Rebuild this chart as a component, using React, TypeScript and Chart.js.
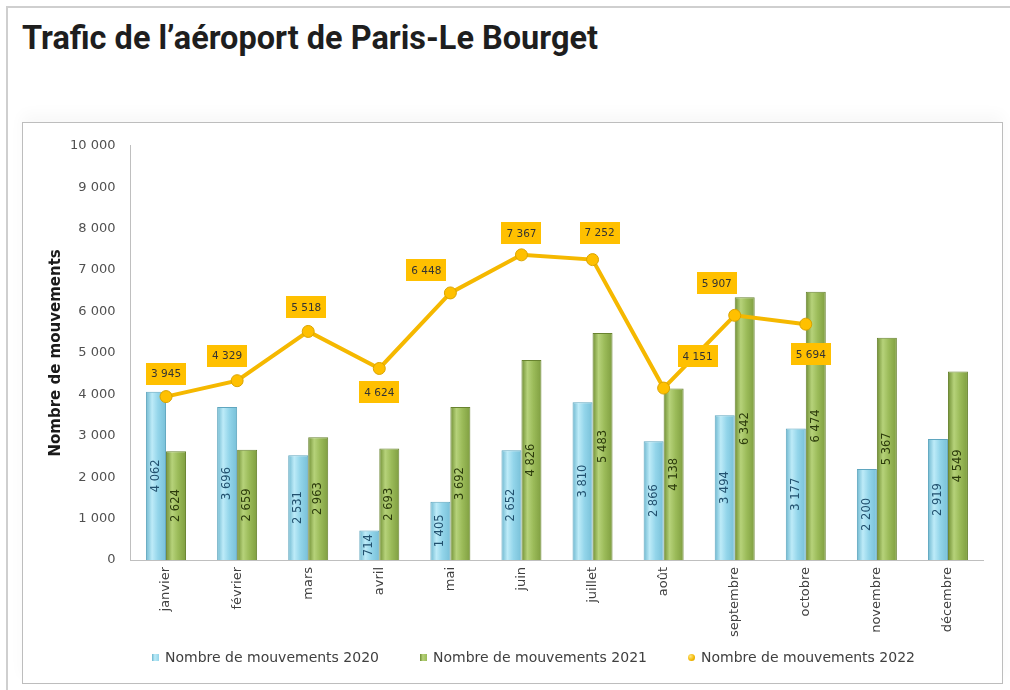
import React, { useEffect, useRef } from 'react';
import { Chart, registerables } from 'chart.js';

Chart.register(...registerables);

// ---------- data ----------
const TITLE = 'Trafic de l’aéroport de Paris-Le Bourget';
const Y_TITLE = 'Nombre de mouvements';
const MONTHS = ['janvier', 'février', 'mars', 'avril', 'mai', 'juin', 'juillet', 'août', 'septembre', 'octobre', 'novembre', 'décembre'];
const MOUV_2020 = [4062, 3696, 2531, 714, 1405, 2652, 3810, 2866, 3494, 3177, 2200, 2919];
const MOUV_2021 = [2624, 2659, 2963, 2693, 3692, 4826, 5483, 4138, 6342, 6474, 5367, 4549];
const MOUV_2022 = [3945, 4329, 5518, 4624, 6448, 7367, 7252, 4151, 5907, 5694, null, null];
const SERIES_LABELS = ['Nombre de mouvements 2020', 'Nombre de mouvements 2021', 'Nombre de mouvements 2022'];
const Y_MIN = 0;
const Y_MAX = 10000;
const Y_STEP = 1000;

// ---------- style ----------
const FONT = '"DejaVu Sans", sans-serif';
const CAT_PCT = 0.5625;
const BLUE_STOPS = ['#6DB7CF', '#BDEBF8', '#93D5EA', '#78C0D8'];
const GREEN_STOPS = ['#6F8E33', '#B6D27A', '#9BBB59', '#7F9E40'];
const LINE_COLOR = '#F5B800';
const BOX_COLOR = '#FFC000';
// label box offsets (dx, dy) relative to each 2022 point
const LINE_LABEL_OFFSETS: [number, number][] = [
  [0, -23], [-10, -25], [-2, -24], [0, 24], [-24, -23], [0, -22], [7, -27], [34, -32], [-18, -32], [5, 30],
];

const fmt = (v: number) => String(v).replace(/\B(?=(\d{3})+(?!\d))/g, ' ');

const barGradient = (stops: string[], leftSide: boolean) => (c: any) => {
  const chart = c.chart;
  const xs = chart.scales?.x;
  if (!xs || c.type !== 'data' || !chart.chartArea) return stops[2];
  const center = xs.getPixelForValue(c.dataIndex);
  const w = (xs.width / MONTHS.length) * CAT_PCT / 2;
  const left = leftSide ? center - w : center;
  const g = chart.ctx.createLinearGradient(left, 0, left + w, 0);
  g.addColorStop(0, stops[0]);
  g.addColorStop(0.3, stops[1]);
  g.addColorStop(0.6, stops[2]);
  g.addColorStop(1, stops[3]);
  return g;
};

const valueLabels = {
  id: 'valueLabels',
  afterDatasetsDraw(chart: any) {
    const ctx = chart.ctx;
    ctx.save();
    const colors = ['#21506E', '#2C3B0C'];
    [0, 1].forEach((di) => {
      const meta = chart.getDatasetMeta(di);
      meta.data.forEach((bar: any, i: number) => {
        const { x, y, base } = bar.getProps(['x', 'y', 'base'], true);
        const v = chart.data.datasets[di].data[i];
        ctx.save();
        ctx.translate(x, (y + base) / 2);
        ctx.rotate(-Math.PI / 2);
        ctx.font = `11.5px ${FONT}`;
        ctx.fillStyle = colors[di];
        ctx.textAlign = 'center';
        ctx.textBaseline = 'middle';
        ctx.fillText(fmt(v), 0, 0);
        ctx.restore();
      });
    });
    const lm = chart.getDatasetMeta(2);
    lm.data.forEach((pt: any, i: number) => {
      const v = chart.data.datasets[2].data[i];
      if (v == null || pt.skip) return;
      const [dx, dy] = LINE_LABEL_OFFSETS[i] || [0, -24];
      const cx = pt.x + dx;
      const cy = pt.y + dy;
      ctx.font = `10.5px ${FONT}`;
      const t = fmt(v);
      const tw = ctx.measureText(t).width;
      const bw = tw + 10;
      const bh = 22;
      ctx.fillStyle = BOX_COLOR;
      ctx.fillRect(Math.round(cx - bw / 2), Math.round(cy - bh / 2), Math.round(bw), bh);
      ctx.fillStyle = '#333333';
      ctx.textAlign = 'center';
      ctx.textBaseline = 'middle';
      ctx.fillText(t, cx, cy + 1);
    });
    ctx.restore();
  },
};

const legendMarkers = [
  { background: 'linear-gradient(90deg,#6DB7CF,#BDEBF8 40%,#93D5EA)', radius: '0' },
  { background: 'linear-gradient(90deg,#6F8E33,#B6D27A 40%,#9BBB59)', radius: '0' },
  { background: 'radial-gradient(circle at 35% 35%,#FFE680,#F2B600 60%,#C99500)', radius: '50%' },
];

export default function App() {
  const canvasRef = useRef<HTMLCanvasElement | null>(null);
  const titleRef = useRef<HTMLDivElement | null>(null);

  useEffect(() => {
    const fit = () => {
      const el = titleRef.current;
      if (!el) return;
      el.style.transform = 'none';
      const w = el.getBoundingClientRect().width;
      if (w > 0) el.style.transform = `scaleX(${576 / w})`;
    };
    fit();
    if ((document as any).fonts?.ready) (document as any).fonts.ready.then(fit);

    Chart.defaults.font.family = FONT;
    const chart = new Chart(canvasRef.current as HTMLCanvasElement, {
      type: 'bar',
      data: {
        labels: MONTHS,
        datasets: [
          {
            type: 'bar',
            label: SERIES_LABELS[0],
            data: MOUV_2020,
            backgroundColor: barGradient(BLUE_STOPS, true),
            borderColor: '#5FA6BF',
            borderWidth: 1,
            categoryPercentage: CAT_PCT,
            barPercentage: 1,
            order: 1,
          },
          {
            type: 'bar',
            label: SERIES_LABELS[1],
            data: MOUV_2021,
            backgroundColor: barGradient(GREEN_STOPS, false),
            borderColor: '#68832F',
            borderWidth: 1,
            categoryPercentage: CAT_PCT,
            barPercentage: 1,
            order: 2,
          },
          {
            type: 'line',
            label: SERIES_LABELS[2],
            data: MOUV_2022 as any,
            borderColor: LINE_COLOR,
            borderWidth: 4,
            pointRadius: 6,
            pointBackgroundColor: '#FFC000',
            pointBorderColor: '#D9A300',
            pointBorderWidth: 1,
            tension: 0,
            spanGaps: false,
            order: 0,
          } as any,
        ],
      },
      options: {
        animation: false,
        responsive: false,
        maintainAspectRatio: false,
        layout: { padding: { left: 0, top: 20, right: 18.5, bottom: 0 } },
        plugins: {
          legend: { display: false },
          tooltip: { enabled: false },
          title: { display: false },
        },
        scales: {
          x: {
            grid: { display: false, drawTicks: false },
            border: { display: true, color: '#BFBFBF', width: 1 },
            ticks: {
              autoSkip: false,
              maxRotation: 90,
              minRotation: 90,
              padding: 7,
              color: '#404040',
              font: { size: 13 },
            },
            afterFit: (s: any) => {
              s.height = 123;
            },
          },
          y: {
            min: Y_MIN,
            max: Y_MAX,
            grid: { display: false, drawTicks: false },
            border: { display: true, color: '#BFBFBF', width: 1 },
            ticks: {
              stepSize: Y_STEP,
              padding: 15,
              color: '#505050',
              font: { size: 13 },
              callback: (v: any) => fmt(Number(v)),
            },
            title: {
              display: true,
              text: Y_TITLE,
              color: '#1A1A1A',
              font: { size: 15, weight: 'bold' },
              padding: { top: 24, bottom: 0 },
            },
            afterFit: (s: any) => {
              s.width = 107.5;
            },
          },
        },
      } as any,
      plugins: [valueLabels],
    });
    return () => chart.destroy();
  }, []);

  return (
    <div style={{ position: 'absolute', left: 0, top: 0, width: 1010, height: 690, overflow: 'hidden', background: '#fff' }}>
      <div style={{ position: 'absolute', left: 6, top: 6, width: 1100, height: 800, borderLeft: '2px solid #CFCFCF', borderTop: '2px solid #CFCFCF' }} />
      <div
        ref={titleRef}
        style={{
          position: 'absolute',
          left: 22,
          top: 20,
          fontFamily: 'Roboto, sans-serif',
          fontWeight: 700,
          fontSize: 34,
          lineHeight: '34px',
          color: '#1E1E1E',
          whiteSpace: 'nowrap',
          transformOrigin: 'left center',
        }}
      >
        {TITLE}
      </div>
      <div
        style={{
          position: 'absolute',
          left: 22,
          top: 122,
          width: 979,
          height: 560,
          border: '1px solid #BDBDBD',
          boxShadow: '0 -8px 14px rgba(0,0,0,0.03)',
          background: '#fff',
        }}
      >
        <canvas ref={canvasRef} width={979} height={560} style={{ display: 'block', width: 979, height: 560 }} />
        <div
          style={{
            position: 'absolute',
            left: 129,
            top: 525,
            display: 'flex',
            gap: 41,
            fontFamily: FONT,
            fontSize: 14,
            lineHeight: '18px',
            color: '#404040',
            whiteSpace: 'nowrap',
          }}
        >
          {SERIES_LABELS.map((l, i) => (
            <div key={l} style={{ display: 'flex', alignItems: 'center' }}>
              <span
                style={{
                  display: 'inline-block',
                  width: 7,
                  height: 7,
                  marginRight: 6,
                  background: legendMarkers[i].background,
                  borderRadius: legendMarkers[i].radius,
                }}
              />
              {l}
            </div>
          ))}
        </div>
      </div>
    </div>
  );
}
